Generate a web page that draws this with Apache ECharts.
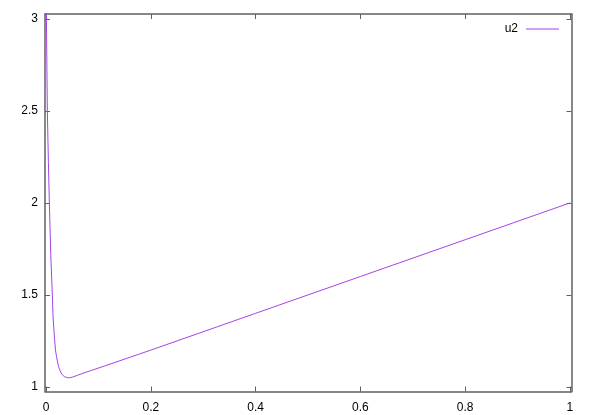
<!DOCTYPE html>
<html>
<head>
<meta charset="utf-8">
<script src="https://cdn.jsdelivr.net/npm/echarts@6/dist/echarts.min.js"></script>
<style>
  html, body { margin: 0; padding: 0; background: #fff; }
  #main { width: 593px; height: 415px; }
</style>
</head>
<body>
<div id="main"></div>
<script>
// u2 (x, value)
const xValues = [0, 0.0006, 0.0025, 0.0045, 0.0063, 0.009, 0.012, 0.0134, 0.016, 0.018, 0.0197, 0.022, 0.024, 0.026, 0.028, 0.031, 0.035, 0.038, 0.041, 0.045, 0.05, 0.06, 0.0725, 0.085, 0.111, 0.2, 0.4, 0.6, 0.8, 1];
const u2Values = [3.1, 3.03, 2.5, 2.22, 2.0, 1.72, 1.5, 1.38, 1.27, 1.2, 1.17, 1.135, 1.11, 1.094, 1.08, 1.066, 1.056, 1.052, 1.05, 1.05, 1.053, 1.063, 1.076, 1.088, 1.113, 1.2, 1.4, 1.6, 1.8, 2.0];
const xTicks = [0, 0.2, 0.4, 0.6, 0.8, 1];
const yTicks = [1, 1.5, 2, 2.5, 3];

const chart = echarts.init(document.getElementById("main"));
const font = "Liberation Sans, Arial, sans-serif";
const frameColor = "#606060";
const lineColor = "#a443e6";

// gnuplot style: ticks inside, mirrored on top/right
function xAxisOf(pos, showLabel) {
  return {
    type: "value",
    position: pos,
    min: -0.002,
    max: 1.003,
    axisLine: { show: true, onZero: false, lineStyle: { color: frameColor, width: 1.5 } },
    axisTick: { show: true, inside: true, length: 5, customValues: xTicks, lineStyle: { color: frameColor } },
    axisLabel: { show: showLabel, customValues: xTicks, margin: 10, color: "#000", fontSize: 12, fontFamily: font },
    splitLine: { show: false },
  };
}
function yAxisOf(pos, showLabel) {
  return {
    type: "value",
    position: pos,
    min: 0.975,
    max: 3.027,
    axisLine: { show: true, onZero: false, lineStyle: { color: frameColor, width: 1.5 } },
    axisTick: { show: true, inside: true, length: 5, customValues: yTicks, lineStyle: { color: frameColor } },
    axisLabel: { show: showLabel, customValues: yTicks, margin: 7, color: "#000", fontSize: 12, fontFamily: font },
    splitLine: { show: false },
  };
}

chart.setOption({
  animation: false,
  backgroundColor: "#fff",
  grid: { left: 45, right: 21.5, top: 14, bottom: 23.5 },
  legend: {
    data: ["u2"],
    right: 29,
    top: 18,
    align: "right",
    itemWidth: 33,
    itemHeight: 1,
    icon: "rect",
    textStyle: { color: "#000", fontSize: 12, fontFamily: font, padding: [0, 3, 0, 0] },
  },
  xAxis: [xAxisOf("bottom", true), xAxisOf("top", false)],
  yAxis: [yAxisOf("left", true), yAxisOf("right", false)],
  series: [
    {
      name: "u2",
      type: "line",
      xAxisIndex: 0,
      yAxisIndex: 0,
      showSymbol: false,
      clip: true,
      color: lineColor,
      lineStyle: { width: 1 },
      data: xValues.map((x, i) => [x, u2Values[i]]),
    },
  ],
});
</script>
</body>
</html>
